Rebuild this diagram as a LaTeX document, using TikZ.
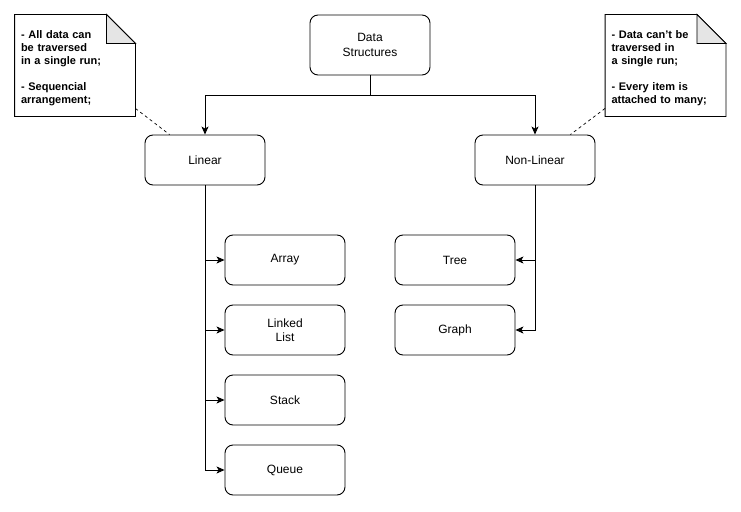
\documentclass[tikz,border=0pt]{standalone}
\usepackage{fontspec}
\setmainfont{Liberation Sans}
\usetikzlibrary{arrows.meta}
\begin{document}
\begin{tikzpicture}[x=1pt,y=-1pt,
  line width=0.9pt,
  box/.style={draw, rounded corners=8pt, fill=white, minimum width=120pt,
    minimum height=50pt, align=center, font=\fontsize{12}{14.5}\selectfont},
  notebox/.style={minimum width=120pt, minimum height=101pt, inner sep=0pt,
    text width=108pt, align=left, font=\bfseries\fontsize{11}{13}\selectfont},
  arr/.style={-{Stealth[length=8pt,width=7pt,inset=2pt]}},
  link/.style={dash pattern=on 3pt off 3pt, line width=0.7pt}]
\useasboundingbox (0,0) rectangle (741,511);

% root and the two families
\node[box, minimum height=60pt] (ds) at (370,45) {Data\\Structures};
\node[box] (lin) at (205,160) {Linear};
\node[box] (nl) at (535,160) {Non-Linear};

% linear structures
\node[box] (array) at (285,260) {Array};
\node[box] (list)  at (285,330) {Linked\\List};
\node[box] (stack) at (285,400) {Stack};
\node[box] (queue) at (285,470) {Queue};

% non-linear structures
\node[box] (tree)  at (455,260) {Tree};
\node[box] (graph) at (455,330) {Graph};

% notes with a folded corner
\node[notebox] (n1) at (75,65.5) {};
\node[notebox] (n2) at (665.5,65.5) {};
\foreach \n in {n1,n2}{
  \coordinate (\n-tl) at (\n.north west);
  \coordinate (\n-tr) at (\n.north east);
  \filldraw[fill=white] (\n-tl) -- ([xshift=-29pt]\n-tr) -- ([yshift=-29pt]\n-tr)
    -- (\n.south east) -- (\n.south west) -- cycle;
  \filldraw[fill=black!10] ([xshift=-29pt]\n-tr) -- ([xshift=-29pt,yshift=-29pt]\n-tr)
    -- ([yshift=-29pt]\n-tr) -- cycle;
}
\node[notebox] (t1) at ([yshift=-2.5pt]n1.center) {- All data can\\be traversed\\in a single run;\\[13pt]- Sequencial\\arrangement;};
\node[notebox] (t2) at ([yshift=-2.5pt]n2.center) {- Data can{\char"27}t be\\traversed in\\a single run;\\[13pt]- Every item is\\attached to many;};

% connectors
\draw[arr] (ds.south) -- ++(0,20) -| (lin.north);
\draw[arr] (ds.south) -- ++(0,20) -| (nl.north);
\foreach \c in {array,list,stack,queue}
  \draw[arr] (lin.south) |- (\c.west);
\foreach \c in {tree,graph}
  \draw[arr] (nl.south) |- (\c.east);

% note links
\draw[link] ([yshift=8pt]n1.south east) -- ([xshift=25pt]lin.north west);
\draw[link] ([yshift=8pt]n2.south west) -- ([xshift=-25pt]nl.north east);
\end{tikzpicture}
\end{document}
